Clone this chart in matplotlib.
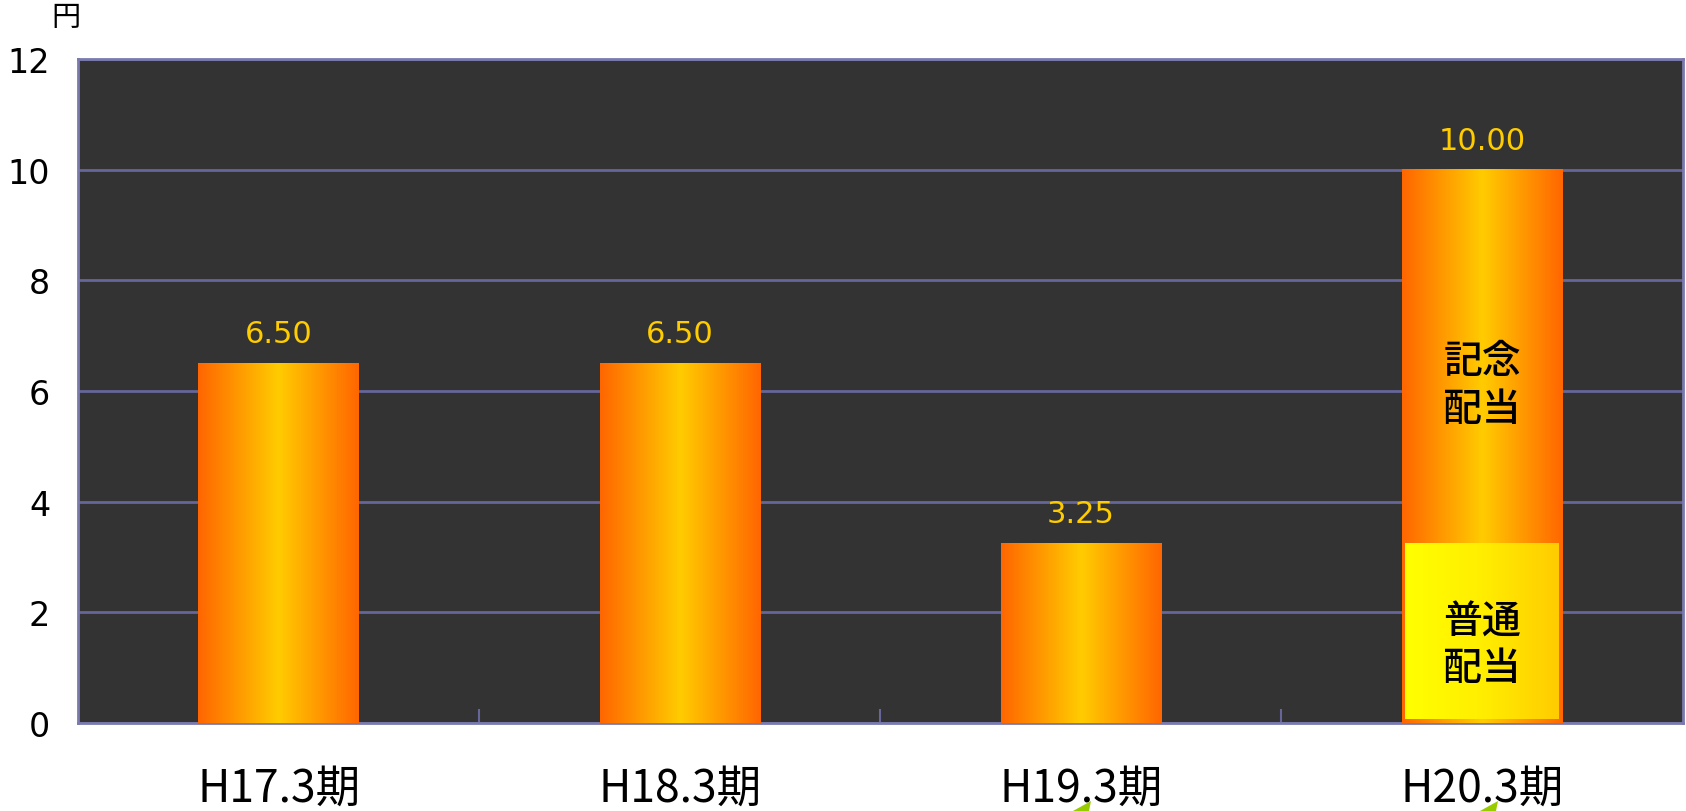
import matplotlib.pyplot as plt
import numpy as np
from matplotlib.colors import LinearSegmentedColormap
from matplotlib.patches import Polygon

plt.rcParams['font.family'] = ['Noto Sans CJK JP', 'DejaVu Sans']

# --- data ---
periods = ['H17.3期', 'H18.3期', 'H19.3期', 'H20.3期']
dividends = [6.50, 6.50, 3.25, 10.00]
regular_h20 = 3.25          # 普通配当 part of the H20.3 dividend
value_labels = ['6.50', '6.50', '3.25', '10.00']
yticks = [0, 2, 4, 6, 8, 10, 12]

bar_w = 0.4
bg = '#333333'
grid_c = '#66669A'
spine_c = '#7A7AAE'

bar_cmap = LinearSegmentedColormap.from_list('bar', ['#FF6600', '#FFCC00', '#FF6600'])
reg_cmap = LinearSegmentedColormap.from_list('reg', ['#FFFF00', '#FFEE00', '#FFCC00'])
grad = np.linspace(0, 1, 256).reshape(1, -1)

fig = plt.figure(figsize=(16.86, 8.12), dpi=100)
ax = fig.add_axes([0.0463, 0.1084, 0.9517, 0.8177])
ax.set_facecolor(bg)

x = np.arange(len(periods))
for xi, v, lab in zip(x, dividends, value_labels):
    ax.imshow(grad, cmap=bar_cmap, extent=[xi - bar_w / 2, xi + bar_w / 2, 0, v],
              aspect='auto', zorder=3, interpolation='bilinear')
    ax.annotate(lab, (xi, v), xytext=(0, 15), textcoords='offset points',
                ha='center', va='baseline', color='#FFCC00', fontsize=22,
                family=['DejaVu Sans'])

# H20.3: regular dividend box inside the commemorative bar
x4 = x[-1]
ax.imshow(grad, cmap=reg_cmap,
          extent=[x4 - bar_w / 2 + 0.008, x4 + bar_w / 2 - 0.01, 0.07, regular_h20],
          aspect='auto', zorder=4, interpolation='bilinear')
txt = dict(ha='center', va='center', fontsize=28, color='black', zorder=5, weight='medium')
ax.text(x4, 6.55, '記念', **txt)
ax.text(x4, 5.68, '配当', **txt)
ax.text(x4, 1.83, '普通', **txt)
ax.text(x4, 1.0, '配当', **txt)

ax.set_xlim(-0.5, len(periods) - 0.5)
ax.set_ylim(0, 12)
ax.set_yticks(yticks)
ax.set_yticklabels([str(t) for t in yticks], fontsize=24, family=['DejaVu Sans'])
ax.set_xticks(x)
ax.set_xticklabels(periods, fontsize=32)
ax.set_xticks(x[:-1] + 0.5, minor=True)
ax.tick_params(axis='x', which='major', length=0, pad=30)
ax.tick_params(axis='x', which='minor', direction='in', length=10, width=1.5, color=grid_c)
ax.tick_params(axis='y', length=0, pad=20)

ax.grid(axis='y', color=grid_c, linewidth=2, zorder=1)
ax.set_axisbelow(True)
for s in ax.spines.values():
    s.set_color(spine_c)
    s.set_linewidth(2)

fig.text(66 / 1686, 1 - 18 / 812, '円', ha='center', va='center', fontsize=21)

# small green marks cut off at the bottom edge
for px in (1083, 1490):
    fig.patches.append(Polygon([[(px - 10) / 1686, 0], [(px + 6) / 1686, 0],
                                [(px + 8) / 1686, 10 / 812]],
                               closed=True, transform=fig.transFigure,
                               facecolor='#99CC00', edgecolor='none'))

fig.savefig('out.png', dpi=100)
